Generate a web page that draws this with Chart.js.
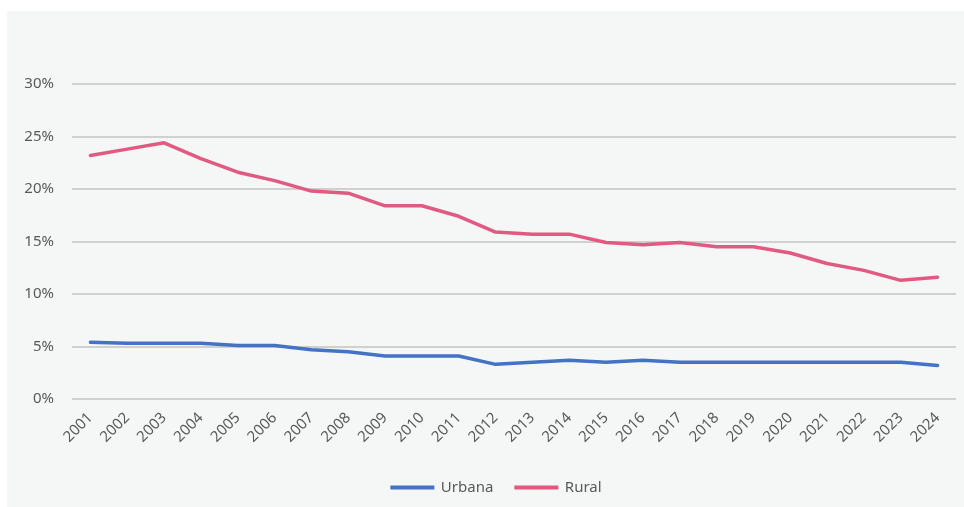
<!DOCTYPE html>
<html>
<head>
<meta charset="utf-8">
<script src="https://cdn.jsdelivr.net/npm/chart.js@4"></script>
<style>
  html, body { margin: 0; padding: 0; background: #ffffff; }
  #wrap { position: absolute; left: 7px; top: 11px; width: 957px; height: 496px; background: #F5F7F7; }
  canvas { display: block; }
</style>
</head>
<body>
<div id="wrap"><canvas id="c" width="957" height="496"></canvas></div>
<script>
const years = ["2001","2002","2003","2004","2005","2006","2007","2008","2009","2010","2011","2012","2013","2014","2015","2016","2017","2018","2019","2020","2021","2022","2023","2024"];
const urbana = [5.4,5.3,5.3,5.3,5.1,5.1,4.7,4.5,4.1,4.1,4.1,3.3,3.5,3.7,3.5,3.7,3.5,3.5,3.5,3.5,3.5,3.5,3.5,3.2];
const rural = [23.2,23.8,24.4,22.9,21.6,20.8,19.8,19.6,18.4,18.4,17.4,15.9,15.7,15.7,14.9,14.7,14.9,14.5,14.5,13.9,12.9,12.25,11.3,11.6];
const yTicks = [0,5,10,15,20,25,30];

const FONT = "'Noto Sans', 'Open Sans', sans-serif";
const TXT = '#595959';

const legendShift = {
  id: 'legendShift',
  afterLayout(chart) {
    if (chart.legend) { chart.legend.left += 15; chart.legend.right += 15; }
  }
};

new Chart(document.getElementById('c'), {
  type: 'line',
  data: {
    labels: years,
    datasets: [
      { label: 'Urbana', data: urbana, borderColor: '#4472C4', backgroundColor: '#4472C4', borderWidth: 3.5, pointRadius: 0, tension: 0, borderCapStyle: 'round', borderJoinStyle: 'round' },
      { label: 'Rural', data: rural, borderColor: '#E05A82', backgroundColor: '#E05A82', borderWidth: 3.5, pointRadius: 0, tension: 0, borderCapStyle: 'round', borderJoinStyle: 'round' }
    ]
  },
  plugins: [legendShift],
  options: {
    responsive: false,
    animation: false,
    layout: { padding: { top: 73, right: 8, left: 0, bottom: 2 } },
    plugins: {
      tooltip: { enabled: false },
      legend: {
        position: 'bottom',
        labels: {
          color: TXT,
          font: { family: FONT, size: 15 },
          boxWidth: 42,
          boxHeight: 2,
          padding: 22,
          generateLabels(chart) {
            return chart.data.datasets.map((ds, i) => ({
              text: ds.label,
              fillStyle: ds.borderColor,
              strokeStyle: ds.borderColor,
              lineWidth: 2,
              lineCap: 'round',
              fontColor: TXT,
              datasetIndex: i,
              hidden: false
            }));
          }
        }
      }
    },
    scales: {
      x: {
        offset: true,
        grid: { display: false },
        border: { display: false },
        afterFit(axis) { axis.height += 10; },
        ticks: { color: TXT, font: { family: FONT, size: 15 }, maxRotation: 45, minRotation: 45, padding: 2, autoSkip: false }
      },
      y: {
        min: 0, max: 30,
        afterBuildTicks(axis) { axis.ticks = yTicks.map(v => ({ value: v })); },
        afterFit(axis) { axis.width = 65; },
        grid: { color: '#D0D0D0', lineWidth: 2, drawTicks: false },
        border: { display: false },
        ticks: { color: TXT, font: { family: FONT, size: 15 }, padding: 18, callback: v => v + '%' }
      }
    }
  }
});
</script>
</body>
</html>
